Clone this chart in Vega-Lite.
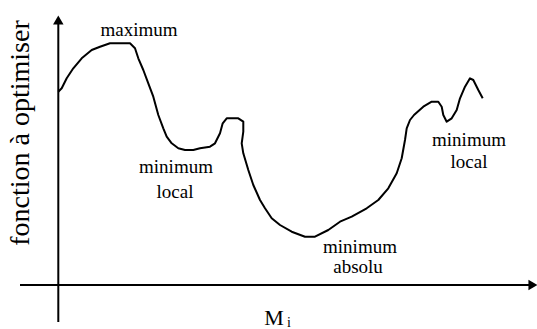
{
  "$schema": "https://vega.github.io/schema/vega-lite/v6.json",
  "autosize": "none",
  "width": 537,
  "height": 329,
  "padding": 0,
  "background": "white",
  "config": {"view": {"stroke": null}, "text": {"font": "Liberation Serif"}},
  "datasets": {
    "curve": [
      {"i": 0, "x": 58.3, "y": 237.3},
      {"i": 1, "x": 61.7, "y": 240.7},
      {"i": 2, "x": 66.7, "y": 250.7},
      {"i": 3, "x": 73.3, "y": 260.7},
      {"i": 4, "x": 81.7, "y": 270.7},
      {"i": 5, "x": 91.7, "y": 279},
      {"i": 6, "x": 100, "y": 282.3},
      {"i": 7, "x": 110, "y": 285.7},
      {"i": 8, "x": 130, "y": 285.7},
      {"i": 9, "x": 135, "y": 280.7},
      {"i": 10, "x": 138.3, "y": 270.7},
      {"i": 11, "x": 143.3, "y": 259},
      {"i": 12, "x": 148.3, "y": 245.7},
      {"i": 13, "x": 153.3, "y": 232.3},
      {"i": 14, "x": 158.3, "y": 214},
      {"i": 15, "x": 163.3, "y": 200.7},
      {"i": 16, "x": 166.7, "y": 192.3},
      {"i": 17, "x": 171.7, "y": 185.7},
      {"i": 18, "x": 178.3, "y": 180.7},
      {"i": 19, "x": 185, "y": 179},
      {"i": 20, "x": 193.3, "y": 179},
      {"i": 21, "x": 200, "y": 180.7},
      {"i": 22, "x": 210, "y": 182.3},
      {"i": 23, "x": 215, "y": 185.7},
      {"i": 24, "x": 220, "y": 195.7},
      {"i": 25, "x": 222.7, "y": 205.7},
      {"i": 26, "x": 226.7, "y": 210.7},
      {"i": 27, "x": 238.3, "y": 210.7},
      {"i": 28, "x": 243.3, "y": 207.3},
      {"i": 29, "x": 243.3, "y": 197.3},
      {"i": 30, "x": 241.7, "y": 185.7},
      {"i": 31, "x": 243.3, "y": 175.7},
      {"i": 32, "x": 248.3, "y": 159},
      {"i": 33, "x": 253.3, "y": 144},
      {"i": 34, "x": 260, "y": 129},
      {"i": 35, "x": 265, "y": 120.7},
      {"i": 36, "x": 271.7, "y": 110.7},
      {"i": 37, "x": 280, "y": 104},
      {"i": 38, "x": 291.7, "y": 97.3},
      {"i": 39, "x": 305, "y": 92.3},
      {"i": 40, "x": 315, "y": 92.3},
      {"i": 41, "x": 328.3, "y": 99},
      {"i": 42, "x": 340, "y": 107.3},
      {"i": 43, "x": 351.7, "y": 112.3},
      {"i": 44, "x": 366.7, "y": 120.7},
      {"i": 45, "x": 378.3, "y": 129},
      {"i": 46, "x": 388.3, "y": 140.7},
      {"i": 47, "x": 396.7, "y": 155.7},
      {"i": 48, "x": 401.7, "y": 170.7},
      {"i": 49, "x": 405, "y": 189},
      {"i": 50, "x": 406.7, "y": 200.7},
      {"i": 51, "x": 410, "y": 209},
      {"i": 52, "x": 414, "y": 214},
      {"i": 53, "x": 423.3, "y": 222.3},
      {"i": 54, "x": 431.7, "y": 227.3},
      {"i": 55, "x": 438.3, "y": 227.3},
      {"i": 56, "x": 441.7, "y": 222.3},
      {"i": 57, "x": 443.3, "y": 214},
      {"i": 58, "x": 446.7, "y": 207.3},
      {"i": 59, "x": 451.7, "y": 210.7},
      {"i": 60, "x": 456.7, "y": 219},
      {"i": 61, "x": 460, "y": 230.7},
      {"i": 62, "x": 465, "y": 242.3},
      {"i": 63, "x": 470, "y": 250.7},
      {"i": 64, "x": 473.3, "y": 249},
      {"i": 65, "x": 478.3, "y": 239},
      {"i": 66, "x": 482.7, "y": 230.7}
    ],
    "axes": [
      {"x": 58.3, "y": 7, "x2": 58.3, "y2": 306},
      {"x": 20, "y": 44, "x2": 530, "y2": 44}
    ],
    "arrows": [
      {"x": 58.3, "y": 309, "shape": "triangle-up"},
      {"x": 533, "y": 44, "shape": "triangle-right"}
    ],
    "labels": [
      {"x": 139, "y": 299, "text": "maximum"},
      {"x": 176, "y": 162, "text": "minimum"},
      {"x": 175, "y": 137, "text": "local"},
      {"x": 360, "y": 82, "text": "minimum"},
      {"x": 358, "y": 62, "text": "absolu"},
      {"x": 469, "y": 189, "text": "minimum"},
      {"x": 469, "y": 167, "text": "local"}
    ]
  },
  "layer": [
    {
      "data": {"name": "axes"},
      "mark": {"type": "rule", "color": "black", "strokeWidth": 2},
      "encoding": {
        "x": {"field": "x", "type": "quantitative", "scale": {"domain": [0, 537], "nice": false, "zero": false}, "axis": null},
        "y": {"field": "y", "type": "quantitative", "scale": {"domain": [0, 329], "nice": false, "zero": false}, "axis": null},
        "x2": {"field": "x2"},
        "y2": {"field": "y2"}
      }
    },
    {
      "data": {"name": "arrows"},
      "mark": {"type": "point", "filled": true, "color": "black", "size": 110, "opacity": 1, "clip": false},
      "encoding": {
        "x": {"field": "x", "type": "quantitative"},
        "y": {"field": "y", "type": "quantitative"},
        "shape": {"field": "shape", "type": "nominal", "scale": null, "legend": null}
      }
    },
    {
      "data": {"name": "curve"},
      "mark": {"type": "line", "color": "black", "strokeWidth": 2, "interpolate": "linear", "strokeJoin": "round"},
      "encoding": {
        "x": {"field": "x", "type": "quantitative"},
        "y": {"field": "y", "type": "quantitative"},
        "order": {"field": "i", "type": "quantitative"}
      }
    },
    {
      "data": {"name": "labels"},
      "mark": {"type": "text", "font": "Liberation Serif", "fontSize": 19, "color": "black", "align": "center", "baseline": "middle"},
      "encoding": {
        "x": {"field": "x", "type": "quantitative"},
        "y": {"field": "y", "type": "quantitative"},
        "text": {"field": "text", "type": "nominal"}
      }
    },
    {
      "data": {"values": [{"x": 21, "y": 196, "text": "fonction à optimiser"}]},
      "mark": {"type": "text", "font": "Liberation Serif", "fontSize": 28, "color": "black", "angle": 270, "align": "center", "baseline": "middle"},
      "encoding": {
        "x": {"field": "x", "type": "quantitative"},
        "y": {"field": "y", "type": "quantitative"},
        "text": {"field": "text", "type": "nominal"}
      }
    },
    {
      "data": {"values": [{"x": 274, "y": 4, "text": "M"}]},
      "mark": {"type": "text", "font": "Liberation Serif", "fontSize": 22, "color": "black", "align": "center", "baseline": "alphabetic"},
      "encoding": {
        "x": {"field": "x", "type": "quantitative"},
        "y": {"field": "y", "type": "quantitative"},
        "text": {"field": "text", "type": "nominal"}
      }
    },
    {
      "data": {"values": [{"x": 289, "y": 2.5, "text": "i"}]},
      "mark": {"type": "text", "font": "Liberation Serif", "fontSize": 14, "color": "black", "align": "center", "baseline": "alphabetic"},
      "encoding": {
        "x": {"field": "x", "type": "quantitative"},
        "y": {"field": "y", "type": "quantitative"},
        "text": {"field": "text", "type": "nominal"}
      }
    }
  ]
}
